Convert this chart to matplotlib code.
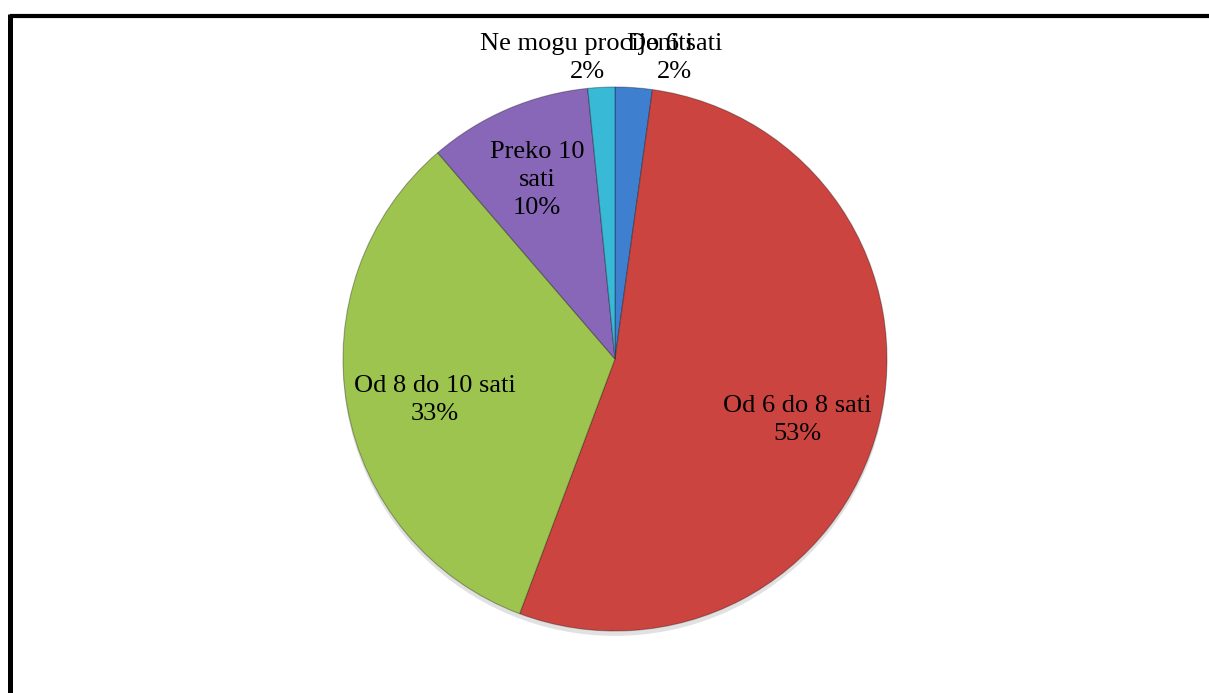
import matplotlib
matplotlib.use("Agg")
import matplotlib.pyplot as plt
from matplotlib.lines import Line2D
from matplotlib.patches import Circle

plt.rcParams['font.family'] = ['Liberation Serif', 'DejaVu Serif']

# podaci
kategorije = ["Do 6 sati", "Od 6 do 8 sati", "Od 8 do 10 sati", "Preko 10 sati", "Ne mogu procijeniti"]
vrijednosti = [2.2, 53.5, 33.0, 9.7, 1.6]
postoci = ["2%", "53%", "33%", "10%", "2%"]
tekst_oznake = ["Do 6 sati", "Od 6 do 8 sati", "Od 8 do 10 sati", "Preko 10\nsati", "Ne mogu procijeniti"]
boje = ["#3F7FD0", "#CC4440", "#9DC44E", "#8867B8", "#38B9D6"]

# polozaj oznaka (u jedinicama radijusa)
pozicije = [(0.22, 1.107), (0.669, -0.224), (-0.662, -0.151), (-0.287, 0.658), (-0.103, 1.107)]

fig = plt.figure(figsize=(12.09, 6.93), dpi=100)
ax = fig.add_axes([343/1209, 1 - 631/693, 544/1209, 544/693])

# blaga sjena ispod kruga
ax.add_patch(Circle((0.0, -0.018), 1.0, color="#888888", alpha=0.25, zorder=0, lw=0,
                    clip_on=False))

wedges, _ = ax.pie(vrijednosti, colors=boje, startangle=90, counterclock=False,
                   radius=1.0, wedgeprops=dict(edgecolor=(0, 0, 0, 0.3), linewidth=0.8))
ax.set_xlim(-1, 1)
ax.set_ylim(-1, 1)
ax.set_aspect("auto")
ax.axis("off")

for t, p, (x, y) in zip(tekst_oznake, postoci, pozicije):
    ax.text(x, y, t + "\n" + p, ha="center", va="center", fontsize=19,
            color="black", linespacing=1.35, clip_on=False)

# okvir (gore i lijevo)
fig.add_artist(Line2D([9.5/1209, 1], [1 - 15.5/693, 1 - 15.5/693], color="black",
                      linewidth=3, solid_capstyle="butt"))
fig.add_artist(Line2D([9.5/1209, 9.5/1209], [1 - 13.5/693, 0], color="black",
                      linewidth=3.6, solid_capstyle="butt"))

fig.savefig("out.png", dpi=100)
